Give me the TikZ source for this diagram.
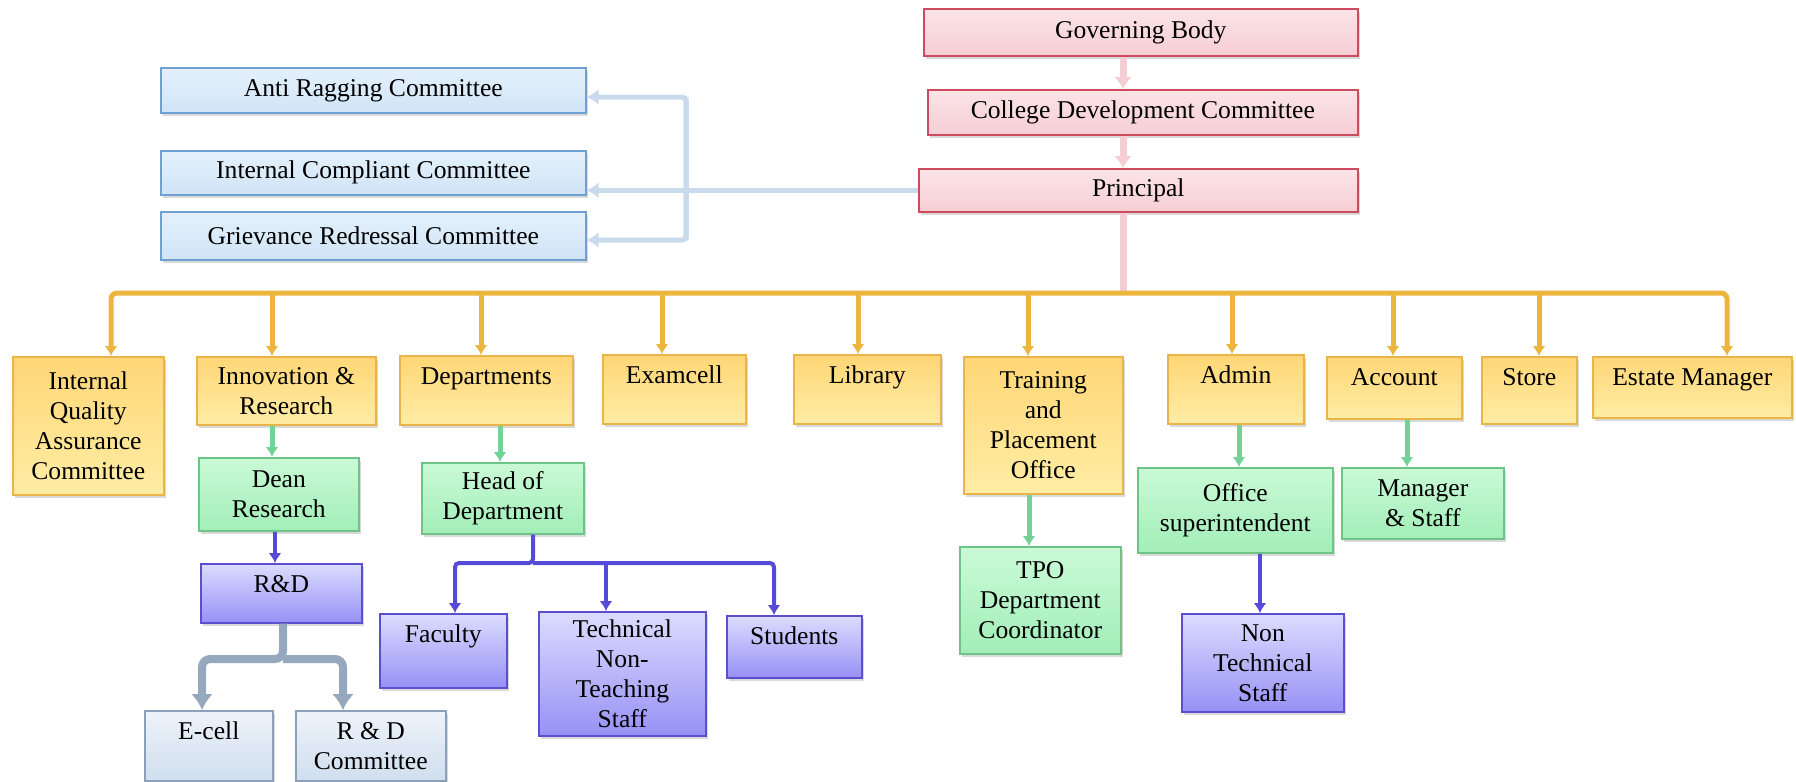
\documentclass[tikz,border=0pt]{standalone}
\usepackage{fontspec}
\setmainfont{Liberation Serif}
\usetikzlibrary{arrows.meta,shadows}

% box colours
\definecolor{pinktop}{RGB}{251,228,231}
\definecolor{pinkbot}{RGB}{246,206,212}
\definecolor{pinkedge}{RGB}{205,75,95}
\definecolor{commtop}{RGB}{228,241,252}
\definecolor{commbot}{RGB}{208,228,246}
\definecolor{commedge}{RGB}{110,160,210}
\definecolor{orangetop}{RGB}{255,214,118}
\definecolor{orangebot}{RGB}{255,237,165}
\definecolor{orangeedge}{RGB}{235,180,75}
\definecolor{greentop}{RGB}{202,250,214}
\definecolor{greenbot}{RGB}{162,238,184}
\definecolor{greenedge}{RGB}{110,195,135}
\definecolor{violettop}{RGB}{220,220,255}
\definecolor{violetbot}{RGB}{150,145,245}
\definecolor{violetedge}{RGB}{90,80,205}
\definecolor{greytop}{RGB}{237,243,250}
\definecolor{greybot}{RGB}{208,222,238}
\definecolor{greyedge}{RGB}{140,160,185}

% connector colours
\definecolor{pinkline}{RGB}{245,205,212}
\definecolor{busorange}{RGB}{236,182,62}
\definecolor{greenline}{RGB}{115,210,150}
\definecolor{blueline}{RGB}{85,75,215}
\definecolor{greyline}{RGB}{150,168,190}
\definecolor{lbline}{RGB}{200,218,236}

\tikzset{
    chartbox/.style={rectangle, line width=0.8pt, anchor=north west, align=center,
        inner xsep=2pt, inner ysep=2pt,
        drop shadow={opacity=0.3, shadow xshift=1pt, shadow yshift=-1.5pt}},
    boxsize/.style 2 args={minimum width=#1, minimum height=#2},
    toptext/.style={text height=10.5pt, text depth=#1, inner ysep=4pt},
    pinkbox/.style={chartbox, draw=pinkedge, top color=pinktop, bottom color=pinkbot},
    commbox/.style={chartbox, draw=commedge, top color=commtop, bottom color=commbot},
    orangebox/.style={chartbox, draw=orangeedge, top color=orangetop, bottom color=orangebot},
    greenbox/.style={chartbox, draw=greenedge, top color=greentop, bottom color=greenbot},
    violetbox/.style={chartbox, draw=violetedge, top color=violettop, bottom color=violetbot},
    greybox/.style={chartbox, draw=greyedge, top color=greytop, bottom color=greybot},
    pinkarrow/.style={draw=pinkline, line width=3.5pt, -{Latex[length=6pt,width=9pt]}},
    pinkstem/.style={draw=pinkline, line width=3.5pt},
    busarrow/.style={draw=busorange, line width=2.5pt, -{Latex[length=5pt,width=6.5pt]}},
    greenarrow/.style={draw=greenline, line width=2.5pt, -{Latex[length=5pt,width=6.5pt]}},
    bluearrow/.style={draw=blueline, line width=2pt, -{Latex[length=5pt,width=6.5pt]}},
    greyarrow/.style={draw=greyline, line width=4pt, -{Latex[length=8pt,width=11pt]}},
    lbarrow/.style={draw=lbline, line width=2.5pt, -{Latex[length=6pt,width=8pt]}}
}

\begin{document}
\begin{tikzpicture}[x=0.5pt, y=-0.5pt, font=\fontsize{12.8}{15}\selectfont]

    \useasboundingbox (0,0) rectangle (1796,782);

    % Governing body down to the principal
    \node[pinkbox, boxsize={217pt}{23.5pt}] (gov) at (923,8) {Governing Body};
    \node[pinkbox, boxsize={215pt}{22.5pt}] (cdc) at (927,89) {College Development Committee};
    \node[pinkbox, boxsize={219.5pt}{21.5pt}] (prin) at (918,168) {Principal};

    % Committees reporting to the principal
    \node[commbox, boxsize={212.5pt}{22.5pt}] (anti) at (160,67) {Anti Ragging Committee};
    \node[commbox, boxsize={212.5pt}{22pt}] (icc) at (160,150) {Internal Compliant Committee};
    \node[commbox, boxsize={212.5pt}{24pt}] (grc) at (160,211) {Grievance Redressal Committee};

    % First level under the principal
    \node[orangebox, boxsize={75.5pt}{69pt}] (iqac) at (12,356) {Internal\\Quality\\Assurance\\Committee};
    \node[orangebox, boxsize={89.5pt}{34pt}] (innov) at (196,356) {Innovation \&\\Research};
    \node[orangebox, toptext=16pt, boxsize={86.5pt}{34.5pt}] (dept) at (399,355) {Departments};
    \node[orangebox, toptext=16pt, boxsize={71.5pt}{34.5pt}] (exam) at (602,354) {Examcell};
    \node[orangebox, toptext=16pt, boxsize={73.5pt}{34.5pt}] (lib) at (793,354) {Library};
    \node[orangebox, boxsize={79.5pt}{68.5pt}] (tpo) at (963,356) {Training\\and\\Placement\\Office};
    \node[orangebox, toptext=16pt, boxsize={68pt}{34.5pt}] (admin) at (1167,354) {Admin};
    \node[orangebox, toptext=12.5pt, boxsize={67.5pt}{31pt}] (acct) at (1326,356) {Account};
    \node[orangebox, toptext=15pt, boxsize={47.5pt}{33.5pt}] (store) at (1481,356) {Store};
    \node[orangebox, toptext=12pt, boxsize={99.5pt}{30.5pt}] (estate) at (1592,356) {Estate Manager};

    % Second level
    \node[greenbox, boxsize={80pt}{36.5pt}] (dean) at (198,457) {Dean\\Research};
    \node[greenbox, boxsize={81pt}{35.5pt}] (hod) at (421,462) {Head of\\Department};
    \node[greenbox, boxsize={80.5pt}{53.5pt}] (tpoc) at (959,546) {TPO\\Department\\Coordinator};
    \node[greenbox, boxsize={97.5pt}{42.5pt}] (office) at (1137,467) {Office\\superintendent};
    \node[greenbox, boxsize={81pt}{35.5pt}] (mgr) at (1341,467) {Manager\\\& Staff};

    % Third level
    \node[violetbox, toptext=11pt, boxsize={80.5pt}{29.5pt}] (rnd) at (200,563) {R\&D};
    \node[violetbox, toptext=18.5pt, boxsize={63.5pt}{37pt}] (fac) at (379,613) {Faculty};
    \node[violetbox, boxsize={83.5pt}{62pt}] (tech) at (538,611) {Technical\\Non-\\Teaching\\Staff};
    \node[violetbox, toptext=12.5pt, boxsize={67.5pt}{31pt}] (stud) at (726,615) {Students};
    \node[violetbox, boxsize={81pt}{49pt}] (nontech) at (1181,613) {Non\\Technical\\Staff};

    % Under R&D
    \node[greybox, toptext=16.5pt, boxsize={64pt}{35pt}] (ecell) at (144,710) {E-cell};
    \node[greybox, boxsize={75pt}{35pt}] (rdc) at (295,710) {R \& D\\Committee};

    % Spine from the top boxes to the bus
    \coordinate (spine) at (1123,293);
    \draw[pinkarrow] (spine |- gov.south) -- (spine |- cdc.north);
    \draw[pinkarrow] (spine |- cdc.south) -- (spine |- prin.north);
    \draw[pinkstem] (spine |- prin.south) -- (spine);

    % Bus and its drops
    \foreach \b/\x in {iqac/111, innov/272, dept/481, exam/662, lib/858, tpo/1028,
                       admin/1232, acct/1393, store/1539, estate/1727}
        \coordinate (bus-\b) at (\x,293);
    \draw[busarrow, rounded corners=3pt] (spine) -- (bus-iqac) -- (bus-iqac |- iqac.north);
    \draw[busarrow, rounded corners=3pt] (spine) -- (bus-estate) -- (bus-estate |- estate.north);
    \foreach \b in {innov, dept, exam, lib, tpo, admin, acct, store}
        \draw[busarrow] (bus-\b) -- (bus-\b |- \b.north);

    % Green links
    \foreach \a/\b/\x in {innov/dean/272, dept/hod/500, tpo/tpoc/1029, admin/office/1239, acct/mgr/1407} {
        \coordinate (g-\b) at (\x,0);
        \draw[greenarrow] (g-\b |- \a.south) -- (g-\b |- \b.north);
    }

    % Blue links
    \coordinate (b-rnd) at (275,0);
    \draw[bluearrow] (b-rnd |- dean.south) -- (b-rnd |- rnd.north);
    \coordinate (b-nontech) at (1260,0);
    \draw[bluearrow] (b-nontech |- office.south) -- (b-nontech |- nontech.north);
    \coordinate (hodfork) at (533,563);
    \coordinate (b-fac) at (455,563);
    \coordinate (b-tech) at (606,563);
    \coordinate (b-stud) at (774,563);
    \draw[bluearrow, rounded corners=2pt] (hodfork |- hod.south) -- (hodfork) -- (b-fac) -- (b-fac |- fac.north);
    \draw[bluearrow, rounded corners=2pt] (hodfork) -- (b-stud) -- (b-stud |- stud.north);
    \draw[bluearrow] (b-tech) -- (b-tech |- tech.north);

    % Grey fork under R&D
    \coordinate (rndfork) at (283,659);
    \coordinate (c-ecell) at (202,659);
    \coordinate (c-rdc) at (343,659);
    \draw[greyarrow, rounded corners=4pt] (rndfork |- rnd.south) -- (rndfork) -- (c-ecell) -- (c-ecell |- ecell.north);
    \draw[greyarrow, rounded corners=4pt] (rndfork) -- (c-rdc) -- (c-rdc |- rdc.north);

    % Principal to the committees
    \draw[lbarrow] (prin.west) -- (prin.west -| icc.east);
    \coordinate (brtop) at (686,97);
    \coordinate (brbot) at (686,240);
    \draw[lbarrow, rounded corners=2pt] (brbot) -- (brtop) -- (brtop -| anti.east);
    \draw[lbarrow, rounded corners=2pt] (brtop) -- (brbot) -- (brbot -| grc.east);

\end{tikzpicture}
\end{document}
